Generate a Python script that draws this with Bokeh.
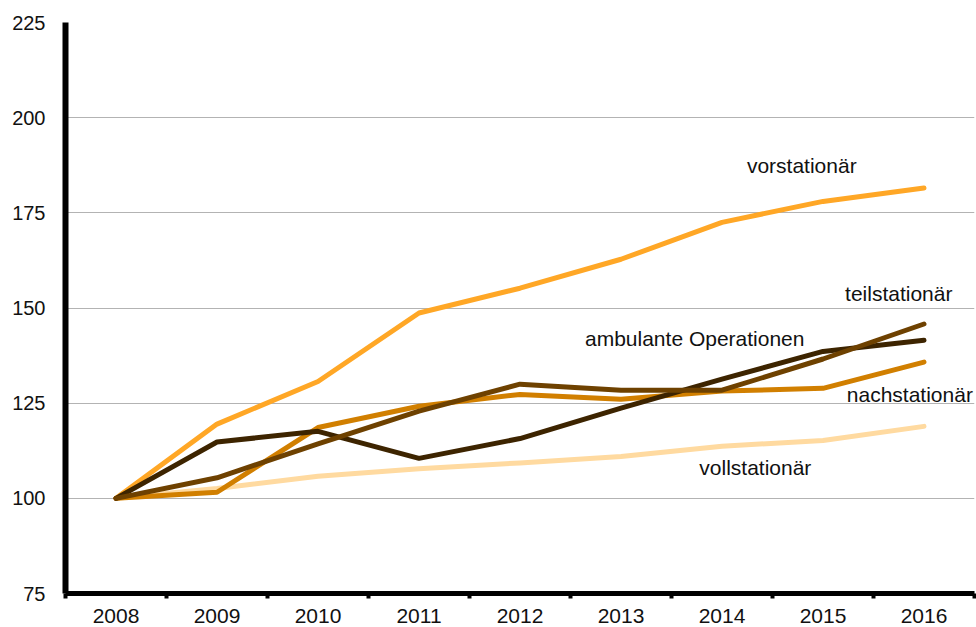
from bokeh.plotting import figure
from bokeh.models import Range1d, FixedTicker, Label
from bokeh.embed import file_html
from bokeh.resources import INLINE

years = [2008, 2009, 2010, 2011, 2012, 2013, 2014, 2015, 2016]
vorstationaer = [100, 119.5, 130.7, 148.7, 155.2, 162.8, 172.5, 178.0, 181.5]
vollstationaer = [100, 102.6, 105.8, 107.8, 109.3, 111.0, 113.7, 115.2, 118.9]
nachstationaer = [100, 101.6, 118.6, 124.2, 127.3, 126.0, 128.2, 128.9, 135.8]
ambulante_op = [100, 114.8, 117.6, 110.5, 115.7, 123.7, 131.3, 138.6, 141.5]
teilstationaer = [100, 105.4, 114.3, 122.9, 130.0, 128.4, 128.4, 136.6, 145.8]
y_ticks = [75, 100, 125, 150, 175, 200, 225]

series = [
    ("vollstationär", vollstationaer, "#FFDAA0"),
    ("vorstationär", vorstationaer, "#FFA726"),
    ("nachstationär", nachstationaer, "#D17F00"),
    ("ambulante Operationen", ambulante_op, "#3D2400"),
    ("teilstationär", teilstationaer, "#6E4100"),
]

# label anchor positions (data units), separate from data
label_pos = {
    "vorstationär": (2014.79, 187.4),
    "teilstationär": (2015.75, 153.7),
    "ambulante Operationen": (2013.73, 142.1),
    "nachstationär": (2015.86, 127.4),
    "vollstationär": (2014.33, 108.2),
}

FONT = "Liberation Sans"

p = figure(width=976, height=627, output_backend="svg", toolbar_location=None,
           x_range=Range1d(years[0] - 0.5, years[-1] + 0.5),
           y_range=Range1d(y_ticks[0], y_ticks[-1]),
           min_border_left=65, min_border_right=2, min_border_top=22, min_border_bottom=34)
p.outline_line_color = None
p.background_fill_color = "white"
p.border_fill_color = "white"

for name, vals, color in series:
    p.line(years, vals, line_color=color, line_width=5, line_cap="round", line_join="round")

for name, (lx, ly) in label_pos.items():
    p.add_layout(Label(x=lx, y=ly, text=name, text_align="center", text_baseline="middle",
                       text_font=FONT, text_font_size="21px", text_color="#111111"))

# grid
p.xgrid.grid_line_color = None
p.ygrid.grid_line_color = "#B3B3B3"
p.ygrid.grid_line_width = 1
p.ygrid.ticker = FixedTicker(ticks=y_ticks)

# y axis
ya = p.yaxis[0]
ya.ticker = FixedTicker(ticks=y_ticks)
ya.axis_line_width = 6
ya.axis_line_color = "black"
ya.major_tick_out = 0
ya.major_tick_in = 0
ya.minor_tick_out = 0
ya.minor_tick_in = 0
ya.major_label_standoff = 20
ya.major_label_text_font = FONT
ya.major_label_text_font_size = "20px"
ya.major_label_text_color = "#111111"

# x axis
boundaries = [y - 0.5 for y in years] + [years[-1] + 0.5]
xa = p.xaxis[0]
xa.ticker = FixedTicker(ticks=years, minor_ticks=boundaries)
xa.major_label_overrides = {y: str(y) for y in years}
xa.axis_line_width = 5
xa.axis_line_color = "black"
xa.major_tick_out = 0
xa.major_tick_in = 0
xa.minor_tick_in = 0
xa.minor_tick_out = 5
xa.minor_tick_line_width = 4
xa.minor_tick_line_color = "black"
xa.major_label_standoff = 10
xa.major_label_text_font = FONT
xa.major_label_text_font_size = "21px"
xa.major_label_text_color = "#111111"

open("out.html", "w").write(file_html(p, INLINE))
